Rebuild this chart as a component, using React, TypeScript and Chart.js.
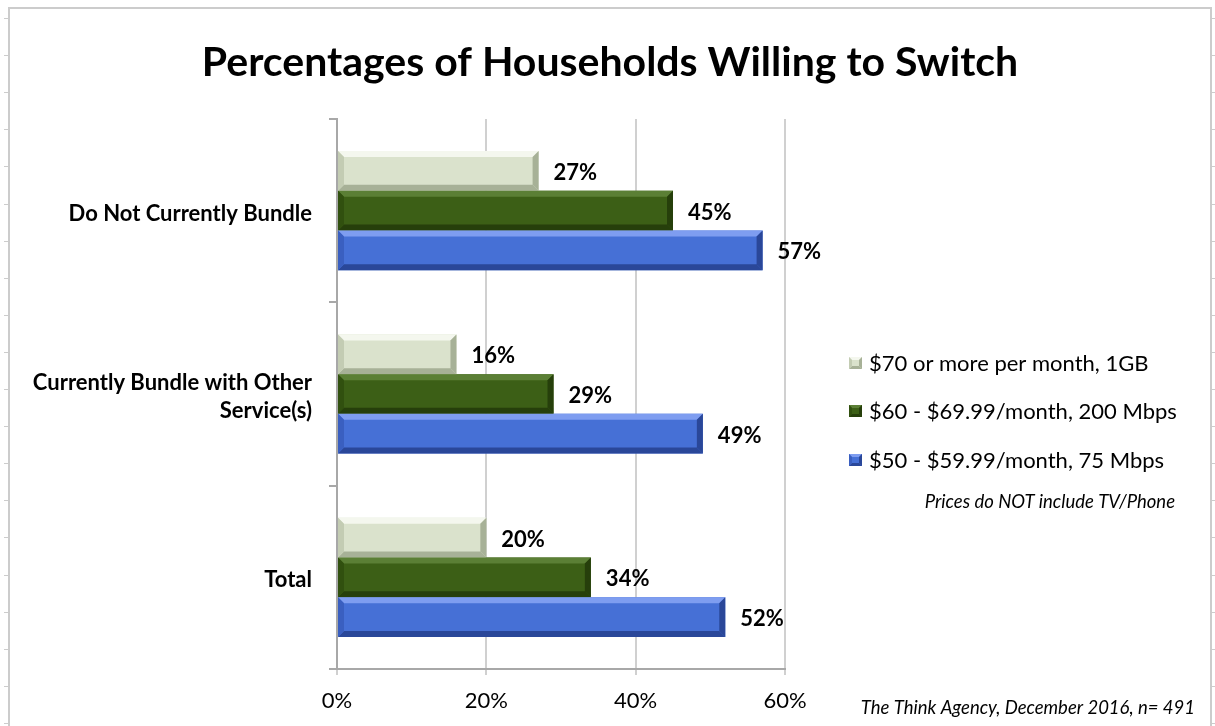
import { useEffect, useRef } from "react";
import { Chart, registerables } from "chart.js";

Chart.register(...registerables);

// Survey groups and the share of households willing to switch at each price tier (%)
const categories: (string | string[])[] = [
  "Do Not Currently Bundle",
  ["Currently Bundle with Other", "Service(s)"],
  "Total",
];
const seriesNames = [
  "$70 or more per month, 1GB",
  "$60 - $69.99/month, 200 Mbps",
  "$50 - $59.99/month, 75 Mbps",
];
const tier70 = [27, 16, 20];
const tier60 = [45, 29, 34];
const tier50 = [57, 49, 52];
const xTickValues = [0, 20, 40, 60];

const titleText = "Percentages of Households Willing to Switch";
const noteText = "Prices do NOT include TV/Phone";
const sourceText = "The Think Agency, December 2016, n= 491";

const FONT = "Lato, 'Open Sans', sans-serif";

// face / highlight / shadow colours for the bevelled bars
const palettes = [
  { base: "#dae2cc", hi: "#f4f7ee", lo: "#a7b197", side: "#c3ccb3" },
  { base: "#3c5f16", hi: "#5b7f35", lo: "#263f0b", side: "#31500f" },
  { base: "#4670d6", hi: "#7e9df0", lo: "#2a4799", side: "#3a5fc0" },
];

function bevel(
  ctx: CanvasRenderingContext2D,
  left: number,
  top: number,
  right: number,
  bottom: number,
  b: number,
  p: { hi: string; lo: string; side: string }
) {
  const poly = (pts: number[][], color: string) => {
    ctx.beginPath();
    ctx.moveTo(pts[0][0], pts[0][1]);
    for (let i = 1; i < pts.length; i++) ctx.lineTo(pts[i][0], pts[i][1]);
    ctx.closePath();
    ctx.fillStyle = color;
    ctx.fill();
  };
  poly([[left, top], [right, top], [right - b, top + b], [left + b, top + b]], p.hi);
  poly([[left, bottom], [right, bottom], [right - b, bottom - b], [left + b, bottom - b]], p.lo);
  poly([[left, top], [left + b, top + b], [left + b, bottom - b], [left, bottom]], p.side);
  poly([[right, top], [right - b, top + b], [right - b, bottom - b], [right, bottom]], p.lo);
}

const decorations = {
  id: "decorations",
  beforeDraw(chart: any) {
    const { ctx, width, height } = chart;
    ctx.save();
    ctx.fillStyle = "#ffffff";
    ctx.fillRect(0, 0, width, height);
    // sheet frame
    ctx.strokeStyle = "#cccccc";
    ctx.lineWidth = 2;
    ctx.beginPath();
    ctx.moveTo(9, height);
    ctx.lineTo(9, 8);
    ctx.lineTo(1211, 8);
    ctx.lineTo(1211, height);
    ctx.stroke();
    ctx.lineWidth = 1;
    for (let y = 18; y < height; y += 37.1) {
      ctx.beginPath();
      ctx.moveTo(4, Math.round(y) + 0.5);
      ctx.lineTo(9, Math.round(y) + 0.5);
      ctx.moveTo(1211, Math.round(y) + 0.5);
      ctx.lineTo(1215, Math.round(y) + 0.5);
      ctx.stroke();
    }
    ctx.restore();
  },
  afterDatasetsDraw(chart: any) {
    const { ctx } = chart;
    ctx.save();
    chart.data.datasets.forEach((ds: any, di: number) => {
      const meta = chart.getDatasetMeta(di);
      meta.data.forEach((bar: any, i: number) => {
        const { x, y, base, height: h } = bar.getProps(["x", "y", "base", "height"], true);
        bevel(ctx, base, y - h / 2, x, y + h / 2, 6, palettes[di]);
        ctx.fillStyle = "#000";
        ctx.font = `bold 22px ${FONT}`;
        ctx.textAlign = "left";
        ctx.textBaseline = "middle";
        ctx.fillText(`${ds.data[i]}%`, x + 15, y + 2);
      });
    });
    ctx.restore();
  },
  afterDraw(chart: any) {
    const { ctx } = chart;
    ctx.save();
    // title
    ctx.fillStyle = "#000";
    ctx.font = `bold 41px ${FONT}`;
    ctx.textAlign = "center";
    ctx.textBaseline = "middle";
    ctx.fillText(titleText, 610, 63);

    // legend
    const legendY = [363, 411, 460];
    seriesNames.forEach((name, i) => {
      const p = palettes[i];
      ctx.fillStyle = p.base;
      ctx.fillRect(849, legendY[i] - 6, 13, 12);
      bevel(ctx, 849, legendY[i] - 6, 862, legendY[i] + 6, 3, p);
      ctx.fillStyle = "#000";
      ctx.font = `22px ${FONT}`;
      ctx.textAlign = "left";
      ctx.textBaseline = "middle";
      ctx.fillText(name, 869, legendY[i] + 1);
    });

    ctx.font = `italic 18.5px ${FONT}`;
    ctx.textAlign = "right";
    ctx.fillText(noteText, 1175, 502);

    ctx.fillText(sourceText, 1195, 708);
    ctx.restore();
  },
};

export default function App() {
  const canvasRef = useRef<HTMLCanvasElement | null>(null);

  useEffect(() => {
    if (!canvasRef.current) return;
    const chart = new Chart(canvasRef.current, {
      type: "bar",
      data: {
        labels: categories,
        datasets: [
          { label: seriesNames[0], data: tier70, backgroundColor: palettes[0].base },
          { label: seriesNames[1], data: tier60, backgroundColor: palettes[1].base },
          { label: seriesNames[2], data: tier50, backgroundColor: palettes[2].base },
        ],
      },
      options: {
        indexAxis: "y",
        animation: false,
        responsive: false,
        maintainAspectRatio: false,
        layout: { padding: { left: 0, top: 119, right: 1215 - 785, bottom: 0 } },
        datasets: { bar: { categoryPercentage: 0.65, barPercentage: 1.0, borderWidth: 0 } },
        plugins: {
          legend: { display: false },
          title: { display: false },
          tooltip: { enabled: false },
        },
        scales: {
          x: {
            type: "linear",
            min: xTickValues[0],
            max: xTickValues[xTickValues.length - 1],
            afterBuildTicks: (axis: any) => {
              axis.ticks = xTickValues.map((v) => ({ value: v }));
            },
            afterFit: (axis: any) => {
              axis.height = 57;
            },
            ticks: {
              callback: (v: any) => `${v}%`,
              font: { family: FONT, size: 22 },
              color: "#000",
              padding: 13,
              maxRotation: 0,
            },
            grid: { color: "#d0d0d0", lineWidth: 2, tickLength: 6 },
            border: { color: "#a8a8a8", width: 2 },
          },
          y: {
            afterFit: (axis: any) => {
              axis.width = 337;
            },
            ticks: {
              font: { family: FONT, size: 22, weight: "bold", lineHeight: 1.3 },
              color: "#000",
              padding: 17,
              labelOffset: 3,
            },
            grid: { drawOnChartArea: false, tickLength: 8, color: "#a8a8a8", lineWidth: 2, offset: true },
            border: { color: "#a8a8a8", width: 2 },
          },
        },
      },
      plugins: [decorations],
    } as any);
    return () => chart.destroy();
  }, []);

  return (
    <div style={{ position: "absolute", left: 0, top: 0, width: 1215, height: 726 }}>
      <canvas ref={canvasRef} width={1215} height={726} />
    </div>
  );
}
